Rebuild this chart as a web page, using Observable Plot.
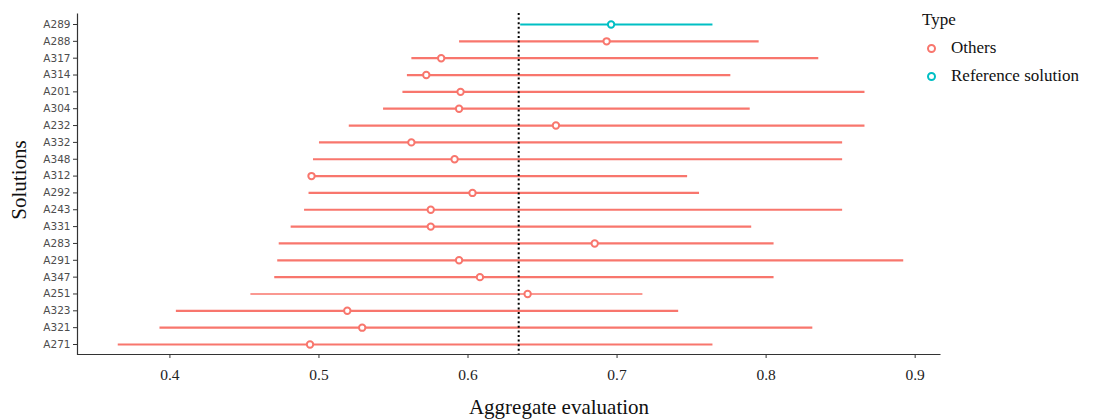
<!DOCTYPE html>
<html>
<head>
<meta charset="utf-8">
<script src="https://cdn.jsdelivr.net/npm/d3@7"></script>
<script src="https://cdn.jsdelivr.net/npm/@observablehq/plot@0.6"></script>
<style>
  html, body { margin: 0; padding: 0; background: #fff; }
  #wrap { position: relative; width: 1108px; height: 420px; overflow: hidden; }
  #wrap svg { position: absolute; left: 0; top: 0; }
  .serif { font-family: "Liberation Serif", "DejaVu Serif", serif; color: #111; position: absolute; white-space: nowrap; }
  #xlab { left: 559px; top: 395px; transform: translateX(-50%); font-size: 21px; }
  #ylab { left: 19px; top: 180px; transform: translate(-50%, -50%) rotate(-90deg); font-size: 21px; }
  #legend { left: 922px; top: 10px; font-size: 17px; }
  #legend .title { margin-bottom: 4px; }
  #legend .row { display: flex; align-items: center; height: 28px; }
  #legend .dot { width: 5px; height: 5px; border-radius: 50%; border: 2px solid; margin-left: 5px; margin-right: 15px; background: #fff; }
</style>
</head>
<body>
<div id="wrap"></div>
<script>
// Solutions, top to bottom
const solutions = ["A289","A288","A317","A314","A201","A304","A232","A332","A348","A312","A292","A243","A331","A283","A291","A347","A251","A323","A321","A271"];
const types = ["Reference solution","Others","Others","Others","Others","Others","Others","Others","Others","Others","Others","Others","Others","Others","Others","Others","Others","Others","Others","Others"];
const lowValues  = [0.635,0.594,0.562,0.559,0.556,0.543,0.520,0.500,0.496,0.495,0.493,0.490,0.481,0.473,0.472,0.470,0.454,0.404,0.393,0.365];
const highValues = [0.764,0.795,0.835,0.776,0.866,0.789,0.866,0.851,0.851,0.747,0.755,0.851,0.790,0.805,0.892,0.805,0.717,0.741,0.831,0.764];
const pointValues= [0.696,0.693,0.582,0.572,0.595,0.594,0.659,0.562,0.591,0.495,0.603,0.575,0.575,0.685,0.594,0.608,0.640,0.519,0.529,0.494];
const referenceLine = [0.634];
const xTicks = [0.4,0.5,0.6,0.7,0.8,0.9];
const typeDomain = ["Others","Reference solution"];
const typeColors = ["#F8766D","#00BFC4"];

const data = solutions.map((s, i) => ({id: s, type: types[i], lo: lowValues[i], hi: highValues[i], v: pointValues[i]}));

const W = 1108, H = 420, mL = 77, mR = 168, mT = 13, mB = 66;
const fw = W - mL - mR, fh = H - mT - mB;

const chart = Plot.plot({
  width: W,
  height: H,
  marginLeft: mL,
  marginRight: mR,
  marginTop: mT,
  marginBottom: mB,
  style: {background: "#fff"},
  x: {domain: [0.338, 0.917], axis: null},
  y: {type: "point", domain: solutions, range: [24, 344], padding: 0, round: false, axis: null},
  color: {domain: typeDomain, range: typeColors},
  marks: [
    // left + bottom axis lines (frame stroke dashed so only those two sides show)
    Plot.frame({stroke: "#333", strokeWidth: 1.2, strokeDasharray: `0,${fw + fh},${fw + fh},0`}),
    Plot.axisY({
      stroke: "#333", fill: "#4d4d4d",
      fontFamily: "DejaVu Sans", fontSize: 10.5,
      tickSize: 4, tickPadding: 3, label: null
    }),
    Plot.axisX({
      ticks: xTicks, tickFormat: d3.format(".1f"),
      stroke: "#333", fill: "#222",
      fontFamily: "Liberation Serif", fontSize: 15.5,
      tickSize: 4, tickPadding: 10, label: null
    }),
    Plot.link(data, {
      x1: "lo", x2: "hi", y1: "id", y2: "id",
      stroke: "type",
      strokeWidth: d => d.id === "A251" ? 1.5 : 2.2
    }),
    Plot.ruleX(referenceLine, {stroke: "#000", strokeWidth: 2, strokeDasharray: "2,2.6"}),
    Plot.dot(data, {x: "v", y: "id", stroke: "type", fill: "#fff", r: 3.2, strokeWidth: 2})
  ]
});

const wrap = document.getElementById("wrap");
wrap.appendChild(chart);

const xlab = document.createElement("div");
xlab.id = "xlab"; xlab.className = "serif"; xlab.textContent = "Aggregate evaluation";
wrap.appendChild(xlab);

const ylab = document.createElement("div");
ylab.id = "ylab"; ylab.className = "serif"; ylab.textContent = "Solutions";
wrap.appendChild(ylab);

const legend = document.createElement("div");
legend.id = "legend"; legend.className = "serif";
const t = document.createElement("div"); t.className = "title"; t.textContent = "Type";
legend.appendChild(t);
typeDomain.forEach((name, i) => {
  const row = document.createElement("div"); row.className = "row";
  const dot = document.createElement("span"); dot.className = "dot"; dot.style.borderColor = typeColors[i];
  const lab = document.createElement("span"); lab.textContent = name;
  row.appendChild(dot); row.appendChild(lab);
  legend.appendChild(row);
});
wrap.appendChild(legend);
</script>
</body>
</html>
